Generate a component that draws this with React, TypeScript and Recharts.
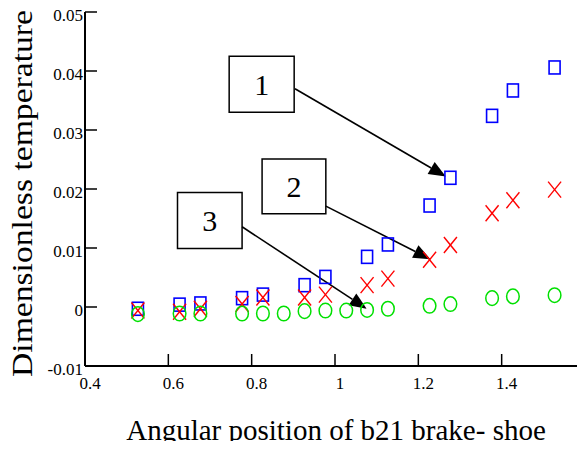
import {
  Label,
  ReferenceArea,
  ReferenceLine,
  Scatter,
  ScatterChart,
  XAxis,
  YAxis,
} from 'recharts'

const FONT = 'Liberation Serif'

// angular positions of the measured points
const positions = [0.527, 0.627, 0.677, 0.777, 0.827, 0.927, 0.977, 1.077, 1.127, 1.227, 1.277, 1.377, 1.427, 1.527]
const curve1 = [-0.0003, 0.0004, 0.0006, 0.0015, 0.0021, 0.0037, 0.0051, 0.0085, 0.0106, 0.0172, 0.0219, 0.0324, 0.0367, 0.0406]
const curve2 = [-0.0006, -0.0008, -0.0003, 0.0005, 0.0016, 0.0016, 0.0021, 0.0037, 0.0048, 0.008, 0.0105, 0.0159, 0.0181, 0.0199]

const positions3 = [0.527, 0.627, 0.677, 0.777, 0.827, 0.877, 0.927, 0.977, 1.027, 1.077, 1.127, 1.227, 1.277, 1.377, 1.427, 1.527]
const curve3 = [-0.0012, -0.0011, -0.0011, -0.0011, -0.0011, -0.0011, -0.0007, -0.0006, -0.0006, -0.0005, -0.0003, 0.0002, 0.0005, 0.0015, 0.0018, 0.002]

const xTicks = [0.4, 0.6, 0.8, 1, 1.2, 1.4, 1.6]
const yTicks = [-0.01, 0, 0.01, 0.02, 0.03, 0.04, 0.05]

// callout boxes: label, x range, y range
const callouts = [
  { label: '1', x: [0.746, 0.902], y: [0.033, 0.0425] },
  { label: '2', x: [0.825, 0.978], y: [0.0158, 0.0251] },
  { label: '3', x: [0.622, 0.777], y: [0.0099, 0.0194] },
]
// arrows from box to curve
const arrows = [
  { from: [0.904, 0.037], to: [1.266, 0.0221] },
  { from: [0.978, 0.0171], to: [1.229, 0.0081] },
  { from: [0.777, 0.0136], to: [1.076, -0.0003] },
]

const toPoints = (xs: number[], ys: number[]) => xs.map((x, i) => ({ x, y: ys[i] }))

const Square = ({ cx, cy }: any) => (
  <rect x={cx - 5.5} y={cy - 6.5} width={11} height={13} fill="none" stroke="#0000ff" strokeWidth={1.6} />
)

const Cross = ({ cx, cy }: any) => (
  <g stroke="#ff0000" strokeWidth={1.4}>
    <line x1={cx - 6.5} y1={cy - 8} x2={cx + 6.5} y2={cy + 8} />
    <line x1={cx - 6.5} y1={cy + 8} x2={cx + 6.5} y2={cy - 8} />
  </g>
)

const Ring = ({ cx, cy }: any) => (
  <ellipse cx={cx} cy={cy} rx={6.3} ry={7.3} fill="none" stroke="#00e000" strokeWidth={1.5} />
)

const Arrow = ({ x1, y1, x2, y2 }: any) => {
  const ang = Math.atan2(y2 - y1, x2 - x1)
  const len = 17
  const half = 7
  const bx = x2 - len * Math.cos(ang)
  const by = y2 - len * Math.sin(ang)
  const px = -Math.sin(ang) * half
  const py = Math.cos(ang) * half
  return (
    <g>
      <line x1={x1} y1={y1} x2={bx} y2={by} stroke="#000" strokeWidth={1.6} />
      <polygon points={`${x2},${y2} ${bx + px},${by + py} ${bx - px},${by - py}`} fill="#000" />
    </g>
  )
}

const XTick = ({ x, y, payload }: any) =>
  payload.value === 1.6 ? null : (
    <text x={x + 5} y={y} dy="0.71em" textAnchor="middle" fill="#000" style={{ fontFamily: FONT, fontSize: 17 }}>
      {String(payload.value)}
    </text>
  )

const YTick = ({ x, y, payload }: any) => (
  <text x={x} y={y + 3} dy="0.36em" textAnchor="end" fill="#000" style={{ fontFamily: FONT, fontSize: 17 }}>
    {String(payload.value)}
  </text>
)

export default function App() {
  return (
    <div style={{ margin: -8, width: 585, height: 449, overflow: 'hidden', background: '#fff' }}>
      <ScatterChart width={590} height={449} margin={{ top: 12, right: 5, bottom: 53, left: 25 }}>
        <XAxis
          type="number"
          dataKey="x"
          domain={[0.4, 1.6]}
          ticks={xTicks}
          height={30}
          tickSize={-12}
          tickMargin={23}
          axisLine={{ stroke: '#000', strokeWidth: 2 }}
          tickLine={{ stroke: '#000', strokeWidth: 1.5 }}
          tick={XTick}
        >
          <Label
            content={() => (
              <text x={336} y={440} textAnchor="middle" fill="#000" style={{ fontFamily: FONT, fontSize: 29 }}>
                Angular position of b21 brake- shoe
              </text>
            )}
          />
        </XAxis>
        <XAxis
          xAxisId="top"
          orientation="top"
          type="number"
          dataKey="x"
          domain={[0.4, 1.6]}
          ticks={xTicks}
          height={0}
          tickSize={-12}
          tick={false}
          axisLine={{ stroke: '#000', strokeWidth: 2 }}
          tickLine={{ stroke: '#000', strokeWidth: 1.5 }}
        />
        <YAxis
          type="number"
          dataKey="y"
          domain={[-0.01, 0.05]}
          ticks={yTicks}
          width={60}
          tickSize={-12}
          tickMargin={14}
          axisLine={{ stroke: '#000', strokeWidth: 2 }}
          tickLine={{ stroke: '#000', strokeWidth: 1.5 }}
          tick={YTick}
        >
          <Label
            content={() => (
              <text
                x={0}
                y={0}
                transform="translate(32,193.5) rotate(-90)"
                textAnchor="middle"
                fill="#000"
                textLength={367}
                lengthAdjust="spacingAndGlyphs"
                style={{ fontFamily: FONT, fontSize: 29 }}
              >
                Dimensionless temperature
              </text>
            )}
          />
        </YAxis>
        <YAxis
          yAxisId="right"
          orientation="right"
          type="number"
          dataKey="y"
          domain={[-0.01, 0.05]}
          ticks={yTicks}
          width={0}
          tickSize={-10}
          tick={false}
          axisLine={{ stroke: '#000', strokeWidth: 2 }}
          tickLine={{ stroke: '#000', strokeWidth: 1.5 }}
        />

        <Scatter data={toPoints(positions, curve1)} shape={Square} isAnimationActive={false} />
        <Scatter data={toPoints(positions, curve2)} shape={Cross} isAnimationActive={false} />
        <Scatter data={toPoints(positions3, curve3)} shape={Ring} isAnimationActive={false} />

        {arrows.map((a, i) => (
          <ReferenceLine
            key={`arrow-${i}`}
            segment={[
              { x: a.from[0], y: a.from[1] },
              { x: a.to[0], y: a.to[1] },
            ]}
            shape={Arrow}
            ifOverflow="visible"
          />
        ))}
        {callouts.map((c) => (
          <ReferenceArea
            key={c.label}
            x1={c.x[0]}
            x2={c.x[1]}
            y1={c.y[0]}
            y2={c.y[1]}
            fill="#fff"
            fillOpacity={1}
            stroke="#000"
            strokeWidth={1.5}
            ifOverflow="visible"
            label={{
              value: c.label,
              position: 'center',
              fill: '#000',
              style: { fontFamily: FONT, fontSize: 30 },
            }}
          />
        ))}
      </ScatterChart>
    </div>
  )
}
